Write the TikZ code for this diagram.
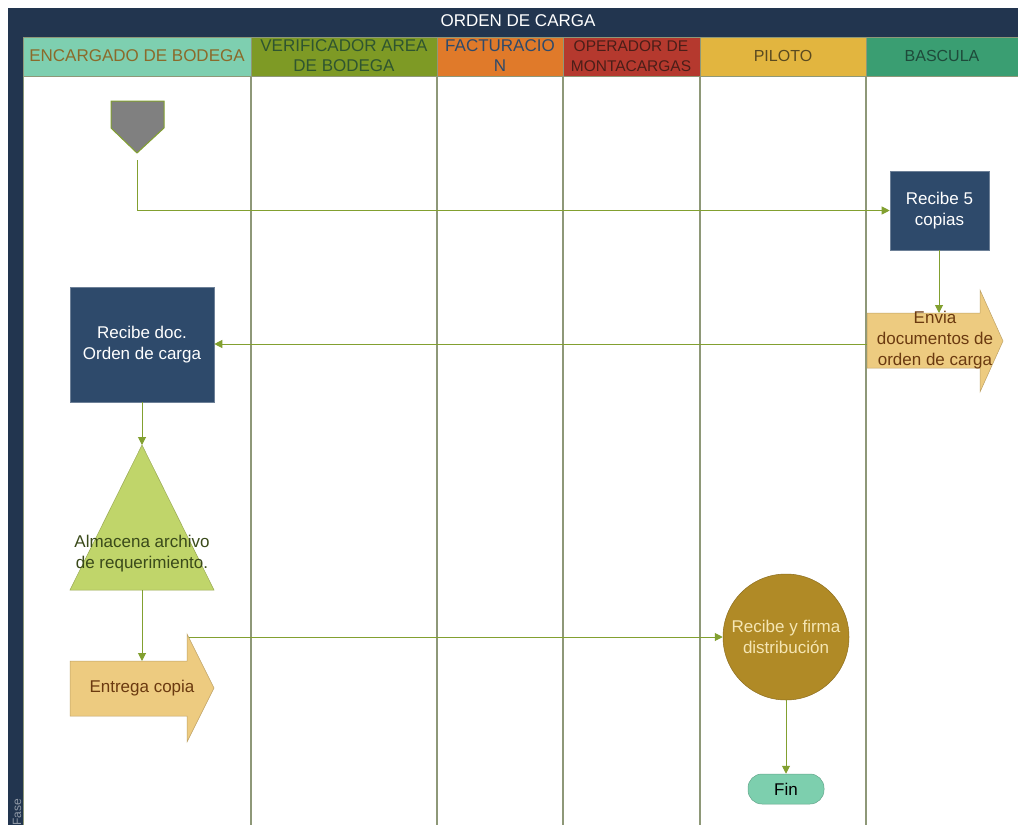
\documentclass[tikz,border=0pt]{standalone}
\usepackage{fontspec}
\setmainfont{Liberation Sans}
\usetikzlibrary{arrows.meta}
\definecolor{navy}{HTML}{22354F}
\definecolor{boxnavy}{HTML}{2E4A6B}
\definecolor{hmint}{HTML}{7ECFB0}
\definecolor{holive}{HTML}{7E9A25}
\definecolor{horange}{HTML}{E07A2A}
\definecolor{hred}{HTML}{B5392E}
\definecolor{hyellow}{HTML}{E2B53F}
\definecolor{hgreen}{HTML}{3A9E72}
\definecolor{laneline}{HTML}{8E9878}
\definecolor{conn}{HTML}{82A030}
\definecolor{tan}{HTML}{EDCB80}
\definecolor{tantext}{HTML}{6B3A10}
\definecolor{trifill}{HTML}{C0D56A}
\definecolor{gold}{HTML}{B08A26}
\definecolor{finmint}{HTML}{7DCFAE}
\definecolor{t1}{HTML}{8B6A2A}
\definecolor{t2}{HTML}{2F5530}
\definecolor{t3}{HTML}{2E4A6B}
\definecolor{t4}{HTML}{4A1E18}
\definecolor{t5}{HTML}{5A4A20}
\definecolor{t6}{HTML}{1E4A3A}
\definecolor{tritext}{HTML}{3A4A1A}
\definecolor{circtext}{HTML}{F5E6B4}
\tikzset{
  hdr/.style={align=center, font=\fontsize{17}{20}\selectfont, inner sep=0pt},
  lane/.style={draw=laneline, line width=1.2pt},
  flow/.style={draw=conn, line width=1pt, -{Triangle[width=8pt,length=8pt]}},
  txt/.style={align=center, font=\fontsize{17}{21}\selectfont, inner sep=0pt},
  procbox/.style={fill=boxnavy, draw=boxnavy!70!white, line width=0.6pt, text=white, align=center, font=\fontsize{17}{21}\selectfont, inner sep=0pt},
}
\begin{document}
\begin{tikzpicture}[x=1pt,y=-1pt]
\useasboundingbox (0,0) rectangle (1018,825);
\fill[white] (0,0) rectangle (1018,825);
% title bar and side bar
\fill[navy] (8,8) rectangle (1018,37);
\node[text=white, font=\fontsize{17}{18}\selectfont] (title) at (518,21) {ORDEN DE CARGA};
\fill[navy] (8,37) rectangle (23,825);
\node[rotate=90, anchor=west, text=navy!50!white, font=\fontsize{12}{12}\selectfont, inner sep=0pt] (fase) at (17,826) {Fase};
% headers
\fill[hmint] (23,37) rectangle (251,76);
\fill[holive] (251,37) rectangle (437,76);
\fill[horange] (437,37) rectangle (563,76);
\fill[hred] (563,37) rectangle (700,76);
\fill[hyellow] (700,37) rectangle (866,76);
\fill[hgreen] (866,37) rectangle (1018,76);
\draw[laneline, line width=0.8pt] (23,37) rectangle (251,76) (251,37) rectangle (437,76) (437,37) rectangle (563,76) (563,37) rectangle (700,76) (700,37) rectangle (866,76) (866,37) rectangle (1018,76);
\node[hdr, text=t1] (h1) at (137,56) {ENCARGADO DE BODEGA};
\node[hdr, text=t2] (h2) at (344,56) {VERIFICADOR AREA\\DE BODEGA};
\node[hdr, text=t3] (h3) at (500,56) {FACTURACIO\\N};
\node[hdr, text=t4, font=\fontsize{15.5}{20}\selectfont] (h4) at (631,56) {OPERADOR DE\\MONTACARGAS};
\node[hdr, text=t5, font=\fontsize{16}{20}\selectfont] (h5) at (783,56) {PILOTO};
\node[hdr, text=t6, font=\fontsize{16}{20}\selectfont] (h6) at (942,56) {BASCULA};
% lane lines
\foreach \x in {251,437,563,700,866} \draw[lane] (\x,76) -- (\x,825);
\draw[laneline, line width=0.8pt] (23,76) -- (23,825);
% start pentagon
\filldraw[fill=gray, draw=conn, line width=1pt] (111,101) -- (164,101) -- (164,128) -- (137,153) -- (111,128) -- cycle;
\coordinate (start) at (137,160);
% Recibe 5 copias
\node[procbox, minimum width=99pt, minimum height=79pt] (r5) at (939.5,210.5) {Recibe 5\\copias};
% Envia arrow
\filldraw[fill=tan, draw=tan!80!black, line width=0.5pt] (867,313) -- (980,313) -- (980,290) -- (1003,341) -- (980,392) -- (980,368) -- (867,368) -- cycle;
\node[txt, text=tantext] (envia) at (935,340) {Envia\\documentos de\\orden de carga};
\coordinate (enviatop) at (939,313);
\coordinate (envial) at (867,344);
% Recibe doc
\node[procbox, minimum width=144pt, minimum height=115pt] (rdoc) at (142,344.5) {Recibe doc.\\Orden de carga};
% Triangle
\filldraw[fill=trifill, draw=trifill!80!black, line width=0.5pt] (142,445) -- (214,590) -- (70,590) -- cycle;
\coordinate (tritop) at (142,445);
\coordinate (tribot) at (142,590);
\node[txt, text=tritext] (alm) at (142,554) {Almacena archivo\\de requerimiento.};
% Entrega copia arrow
\filldraw[fill=tan, draw=tan!80!black, line width=0.5pt] (70,661) -- (187,661) -- (187,634) -- (214,688) -- (187,742) -- (187,716) -- (70,716) -- cycle;
\node[txt, text=tantext] (entrega) at (142,688) {Entrega copia};
\coordinate (entop) at (142,661);
\coordinate (enout) at (189,637);
% circle
\node[circle, fill=gold, draw=gold!80!black, line width=0.5pt, minimum size=126pt, inner sep=0pt, txt, text=circtext] (circ) at (786,637) {Recibe y firma\\distribución};
% Fin
\node[rounded corners=14pt, fill=finmint, draw=finmint!80!black, line width=0.5pt, minimum width=76pt, minimum height=30pt, txt, text=black] (fin) at (786,789) {Fin};
% connectors
\draw[flow] (start) |- (r5.west);
\draw[flow] (r5.south -| enviatop) -- (enviatop);
\draw[flow] (envial) -- (rdoc.east |- envial);
\draw[flow] (rdoc.south) -- (tritop);
\draw[flow] (tribot) -- (entop);
\draw[flow] (enout) -- (circ.west);
\draw[flow] (circ.south) -- (fin.north);
\end{tikzpicture}
\end{document}
